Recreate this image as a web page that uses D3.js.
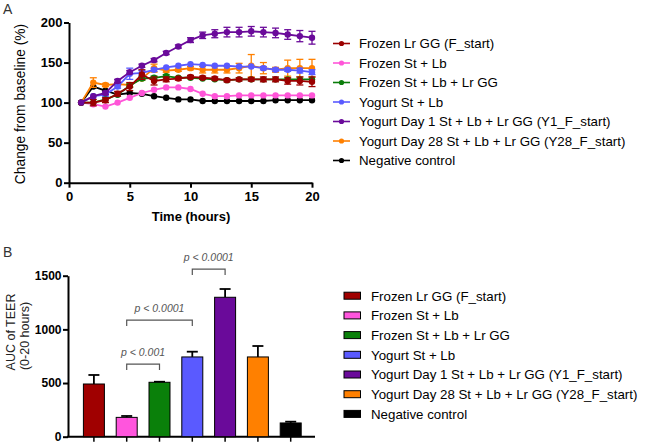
<!DOCTYPE html>
<html>
<head>
<meta charset="utf-8">
<script src="https://cdn.jsdelivr.net/npm/d3@7"></script>
<style>
  html, body { margin: 0; padding: 0; background: #fff; }
  svg { display: block; font-family: "Liberation Sans", Arial, sans-serif; }
</style>
</head>
<body>
<svg id="chart" width="650" height="448"></svg>
<script>
// ---------- DATA ----------
const seriesNames = [
  "Frozen Lr GG (F_start)",
  "Frozen St + Lb",
  "Frozen St + Lb + Lr GG",
  "Yogurt St + Lb",
  "Yogurt Day 1 St + Lb + Lr GG (Y1_F_start)",
  "Yogurt Day 28 St + Lb + Lr GG (Y28_F_start)",
  "Negative control"
];
const seriesColors = ["#9b0000", "#ff55d8", "#0a7d0a", "#5a5aff", "#6a0a9a", "#ff8000", "#000000"];
const barColors    = ["#a00000", "#ff55dd", "#0a800a", "#5a5aff", "#6a0a9a", "#ff8000", "#000000"];

const timeHours = [1,2,3,4,5,6,7,8,9,10,11,12,13,14,15,16,17,18,19,20];

const frozenLrGG      = [100,100,103,111,120,135,127,129,130,132,131,130,128,129,129,129,129,127,127,126];
const frozenLrGGErr   = [0,4,3,3,5,6,5,3,2,2,2,2,2,2,2,3,3,4,5,6];
const frozenStLb      = [100,98,95,100,106,112,116,119,119,117,111,108,108,109,109,109,109,109,109,109];
const frozenStLbErr   = [0,1,1,1,1,1,1,1,1,1,1,1,1,1,1,1,1,1,1,1];
const frozenStLbLrGG  = [100,100,104,110,121,130,131,133,131,131,130,129,128,129,129,129,129,129,129,129];
const frozenStLbLrGGErr = [0,1,1,1,2,2,2,2,1,1,1,1,1,1,1,1,1,1,1,1];
const yogurtStLb      = [100,108,110,120,136,137,141,144,146,148,147,146,146,145,145,143,141,141,140,138];
const yogurtStLbErr   = [0,1,2,2,7,3,2,1,1,1,1,1,1,1,1,2,2,2,3,3];
const yogurtDay1      = [100,108,112,127,138,146,153,162,170,178,184,186,188,188,189,188,187,185,183,181];
const yogurtDay1Err   = [0,1,2,2,2,2,2,2,2,3,4,5,6,6,6,6,6,6,7,8];
const yogurtDay28     = [100,125,122,123,122,130,143,140,141,143,141,141,141,143,146,143,141,143,143,143];
const yogurtDay28Err  = [0,6,2,2,2,2,5,2,2,2,4,4,4,6,14,7,3,10,11,11];
const negControl      = [100,120,115,110,112,111,108,106,104,104,102,102,102,102,102,102,103,103,103,103];
const negControlErr   = [0,1,1,1,1,1,1,1,1,1,1,1,1,1,1,1,1,1,1,1];

const lineValues = [frozenLrGG, frozenStLb, frozenStLbLrGG, yogurtStLb, yogurtDay1, yogurtDay28, negControl];
const lineErrors = [frozenLrGGErr, frozenStLbErr, frozenStLbLrGGErr, yogurtStLbErr, yogurtDay1Err, yogurtDay28Err, negControlErr];

const xTicksA = [0,5,10,15,20];
const yTicksA = [0,50,100,150,200];

const aucValues = [491, 180, 507, 743, 1299, 743, 128];
const aucErrors = [84, 13, 5, 49, 77, 102, 12];
const yTicksB = [0,500,1000,1500];

const comparisons = [
  { from: 1, to: 2, level: 677, label: "p < 0.001" },
  { from: 1, to: 3, level: 1087, label: "p < 0.0001" },
  { from: 3, to: 4, level: 1562, label: "p < 0.0001" }
];

// ---------- DRAW ----------
const svg = d3.select("#chart");
const tickFontA = "bold 13px 'Liberation Sans', Arial, sans-serif";
const tickFontB = "bold 12px 'Liberation Sans', Arial, sans-serif";

// Panel A
const xA = d3.scaleLinear().domain([0, 20]).range([69, 312]);
const yA = d3.scaleLinear().domain([0, 200]).range([182.7, 22.5]);

svg.append("text").attr("x", 3).attr("y", 13.5).attr("font-size", 14).attr("fill", "#333").text("A");

const gxA = svg.append("g").attr("transform", `translate(0,${yA(0)})`)
  .call(d3.axisBottom(xA).tickValues(xTicksA).tickSize(5).tickPadding(4).tickSizeOuter(0));
const gyA = svg.append("g").attr("transform", `translate(${xA(0)},0)`)
  .call(d3.axisLeft(yA).tickValues(yTicksA).tickSize(5).tickPadding(1.5).tickSizeOuter(0));
[gxA, gyA].forEach(g => {
  g.selectAll("path.domain").attr("stroke", "#000").attr("stroke-width", 2);
  g.selectAll(".tick line").attr("stroke", "#000").attr("stroke-width", 2);
  g.selectAll(".tick text").style("font", tickFontA).attr("fill", "#000");
});

svg.append("text").attr("x", 191).attr("y", 220.5).attr("text-anchor", "middle")
  .style("font", "bold 13px 'Liberation Sans', Arial, sans-serif").text("Time (hours)");
svg.append("text").attr("transform", `translate(25,104) rotate(-90)`).attr("text-anchor", "middle")
  .style("font", "13.8px 'Liberation Sans', Arial, sans-serif").attr("fill", "#000").text("Change from baseline (%)");

const drawOrder = [6, 1, 5, 3, 2, 0, 4];
const line = d3.line().x((d, i) => xA(timeHours[i])).y(d => yA(d));
drawOrder.forEach(s => {
  const g = svg.append("g");
  const col = seriesColors[s];
  lineValues[s].forEach((v, i) => {
    const e = lineErrors[s][i];
    if (e < 2) return;
    const x = xA(timeHours[i]);
    g.append("line").attr("x1", x).attr("x2", x).attr("y1", yA(v - e)).attr("y2", yA(v + e))
      .attr("stroke", col).attr("stroke-width", 1.3);
    [v - e, v + e].forEach(w => {
      g.append("line").attr("x1", x - 3.5).attr("x2", x + 3.5).attr("y1", yA(w)).attr("y2", yA(w))
        .attr("stroke", col).attr("stroke-width", 1.3);
    });
  });
  g.append("path").datum(lineValues[s]).attr("d", line).attr("fill", "none")
    .attr("stroke", col).attr("stroke-width", 1.8);
  g.selectAll("circle").data(lineValues[s]).join("circle")
    .attr("cx", (d, i) => xA(timeHours[i])).attr("cy", d => yA(d)).attr("r", 3.2).attr("fill", col);
});

// Legend A
const legA = svg.append("g");
seriesNames.forEach((name, i) => {
  const y = 43.5 + i * 19.5;
  legA.append("line").attr("x1", 333).attr("x2", 350).attr("y1", y).attr("y2", y)
    .attr("stroke", seriesColors[i]).attr("stroke-width", 1.6);
  legA.append("circle").attr("cx", 341.5).attr("cy", y).attr("r", 2.6).attr("fill", seriesColors[i]);
  legA.append("text").attr("x", 359).attr("y", y + 4.8).attr("font-size", 13.3).attr("fill", "#000").text(name);
});

// Panel B
svg.append("text").attr("x", 3).attr("y", 257).attr("font-size", 14).attr("fill", "#333").text("B");

const xB = d3.scaleBand().domain(d3.range(aucValues.length)).range([77.5, 307.1])
  .paddingInner(0.36).paddingOuter(0.18);
const yB = d3.scaleLinear().domain([0, 1500]).range([436.7, 275.7]);

const gyB = svg.append("g").attr("transform", `translate(68,0)`)
  .call(d3.axisLeft(yB).tickValues(yTicksB).tickFormat(d3.format("d")).tickSize(5).tickPadding(1.5).tickSizeOuter(0));
gyB.selectAll("path.domain").attr("stroke", "#000").attr("stroke-width", 2);
gyB.selectAll(".tick line").attr("stroke", "#000").attr("stroke-width", 2);
gyB.selectAll(".tick text").style("font", tickFontB).attr("fill", "#000");

svg.append("line").attr("x1", 67).attr("x2", 315).attr("y1", yB(0)).attr("y2", yB(0))
  .attr("stroke", "#000").attr("stroke-width", 2);
aucValues.forEach((v, i) => {
  const cx = xB(i) + xB.bandwidth() / 2;
  svg.append("line").attr("x1", cx).attr("x2", cx).attr("y1", yB(0)).attr("y2", yB(0) + 5)
    .attr("stroke", "#000").attr("stroke-width", 1.5);
});

aucValues.forEach((v, i) => {
  const cx = xB(i) + xB.bandwidth() / 2;
  svg.append("line").attr("x1", cx).attr("x2", cx).attr("y1", yB(v)).attr("y2", yB(v + aucErrors[i]))
    .attr("stroke", "#000").attr("stroke-width", 1.8);
  svg.append("line").attr("x1", cx - 5.5).attr("x2", cx + 5.5).attr("y1", yB(v + aucErrors[i])).attr("y2", yB(v + aucErrors[i]))
    .attr("stroke", "#000").attr("stroke-width", 1.8);
});

svg.append("g").selectAll("rect").data(aucValues).join("rect")
  .attr("x", (d, i) => xB(i)).attr("width", xB.bandwidth())
  .attr("y", d => yB(d)).attr("height", d => yB(0) - yB(d))
  .attr("fill", (d, i) => barColors[i]).attr("stroke", "#000").attr("stroke-width", 1);

comparisons.forEach(c => {
  const x1 = xB(c.from) + xB.bandwidth() / 2;
  const x2 = xB(c.to) + xB.bandwidth() / 2;
  const y = yB(c.level);
  svg.append("path").attr("d", `M${x1},${y + 6}V${y}H${x2}V${y + 6}`)
    .attr("fill", "none").attr("stroke", "#555").attr("stroke-width", 1.2);
  svg.append("text").attr("x", (x1 + x2) / 2).attr("y", y - 8).attr("text-anchor", "middle")
    .attr("font-size", 10.5).attr("font-style", "italic").attr("fill", "#555").text(c.label);
});

// y label B
svg.append("text").attr("transform", `translate(15,332) rotate(-90)`)
  .attr("text-anchor", "middle").attr("font-size", 12.5).attr("fill", "#222").text("AUC of TEER");
svg.append("text").attr("transform", `translate(29,336) rotate(-90)`)
  .attr("text-anchor", "middle").attr("font-size", 12.5).attr("fill", "#222").text("(0-20 hours)");

// Legend B
const legB = svg.append("g");
seriesNames.forEach((name, i) => {
  const y = 295.7 + i * 19.7;
  legB.append("rect").attr("x", 344).attr("y", y - 3.5).attr("width", 16.5).attr("height", 7)
    .attr("fill", barColors[i]).attr("stroke", "#000").attr("stroke-width", 1);
  legB.append("text").attr("x", 371).attr("y", y + 4.8).attr("font-size", 13.3).attr("fill", "#000").text(name);
});
</script>
</body>
</html>
